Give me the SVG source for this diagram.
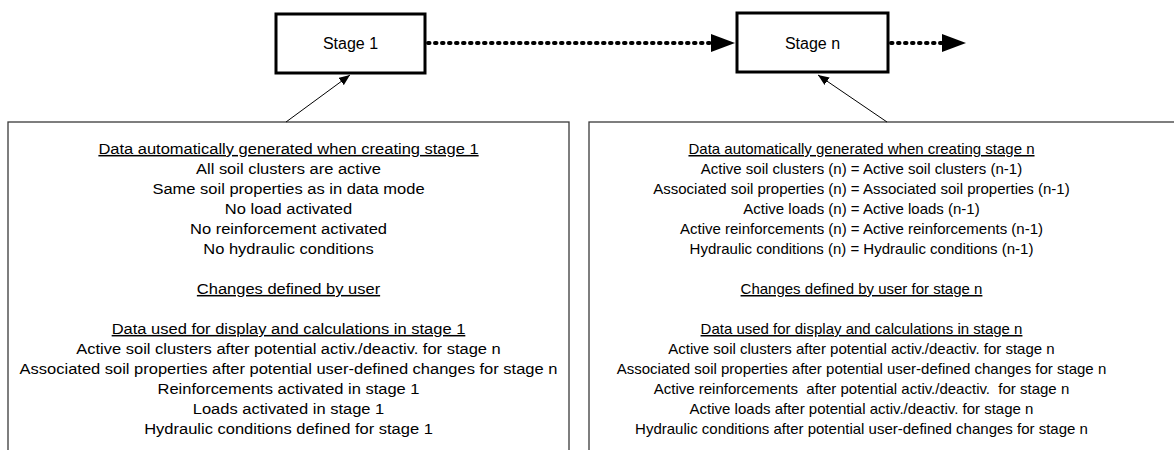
<svg xmlns="http://www.w3.org/2000/svg" width="1174" height="450" viewBox="0 0 1174 450">
<style>
.stage{fill:#fff;stroke:#000;stroke-width:3}
.panel{fill:#fff;stroke:#3a3a3a;stroke-width:1.3}
.lbl{font-family:"Liberation Sans",Arial,sans-serif;font-size:16px;fill:#000;text-anchor:middle}
.txt{font-family:"Liberation Sans",Arial,sans-serif;font-size:15px;fill:#000;text-anchor:middle}
.u{text-decoration:underline}
.dots{fill:none;stroke:#000;stroke-width:4;stroke-linecap:round;stroke-dasharray:1.5 5.5}
.thin{fill:none;stroke:#000;stroke-width:1}
</style>
<defs>
<marker id="big" markerUnits="userSpaceOnUse" markerWidth="24" markerHeight="18" refX="0" refY="9" orient="auto">
<path d="M0,0 L24,9 L0,18 z" fill="#000"/>
</marker>
<marker id="small" markerUnits="userSpaceOnUse" markerWidth="11" markerHeight="9" refX="11" refY="4.5" orient="auto">
<path d="M0,0 L11,4.5 L0,9 z" fill="#000"/>
</marker>
</defs>

<g id="panel-stage1">
<rect class="panel" x="8" y="122" width="561" height="340"/>
<g transform="translate(288.5 0) scale(1.1 1)">
<text class="txt u" x="0" y="154">Data automatically generated when creating stage 1</text>
<text class="txt" x="0" y="174">All soil clusters are active</text>
<text class="txt" x="0" y="194">Same soil properties as in data mode</text>
<text class="txt" x="0" y="214">No load activated</text>
<text class="txt" x="0" y="234">No reinforcement activated</text>
<text class="txt" x="0" y="254">No hydraulic conditions</text>
<text class="txt u" x="0" y="294">Changes defined by user</text>
<text class="txt u" x="0" y="334">Data used for display and calculations in stage 1</text>
<text class="txt" x="0" y="354">Active soil clusters after potential activ./deactiv. for stage n</text>
<text class="txt" x="0" y="374">Associated soil properties after potential user-defined changes for stage n</text>
<text class="txt" x="0" y="394">Reinforcements activated in stage 1</text>
<text class="txt" x="0" y="414">Loads activated in stage 1</text>
<text class="txt" x="0" y="434">Hydraulic conditions defined for stage 1</text>
</g>
</g>

<g id="panel-stagen">
<rect class="panel" x="589" y="122" width="620" height="340"/>
<text class="txt u" x="861.5" y="154">Data automatically generated when creating stage n</text>
<text class="txt" x="861.5" y="174">Active soil clusters (n) = Active soil clusters (n-1)</text>
<text class="txt" x="861.5" y="194">Associated soil properties (n) = Associated soil properties (n-1)</text>
<text class="txt" x="861.5" y="214">Active loads (n) = Active loads (n-1)</text>
<text class="txt" x="861.5" y="234">Active reinforcements (n) = Active reinforcements (n-1)</text>
<text class="txt" x="861.5" y="254">Hydraulic conditions (n) = Hydraulic conditions (n-1)</text>
<text class="txt u" x="861.5" y="294">Changes defined by user for stage n</text>
<text class="txt u" x="861.5" y="334">Data used for display and calculations in stage n</text>
<text class="txt" x="861.5" y="354">Active soil clusters after potential activ./deactiv. for stage n</text>
<text class="txt" x="861.5" y="374">Associated soil properties after potential user-defined changes for stage n</text>
<text class="txt" x="861.5" y="394" xml:space="preserve">Active reinforcements  after potential activ./deactiv.  for stage n</text>
<text class="txt" x="861.5" y="414">Active loads after potential activ./deactiv. for stage n</text>
<text class="txt" x="861.5" y="434">Hydraulic conditions after potential user-defined changes for stage n</text>
</g>

<g id="stage1">
<rect class="stage" x="276" y="14" width="149" height="59"/>
<text class="lbl" x="350.5" y="49">Stage 1</text>
</g>

<g id="stagen">
<rect class="stage" x="737" y="13" width="151" height="59"/>
<text class="lbl" x="812.5" y="48.5">Stage n</text>
</g>

<g id="connectors">
<line class="dots" x1="428" y1="43" x2="711" y2="43" marker-end="url(#big)"/>
<line class="dots" x1="891" y1="43" x2="942" y2="43" marker-end="url(#big)"/>
<line class="thin" x1="286" y1="122" x2="350" y2="75" marker-end="url(#small)"/>
<line class="thin" x1="887" y1="122" x2="818" y2="75" marker-end="url(#small)"/>
</g>
</svg>
